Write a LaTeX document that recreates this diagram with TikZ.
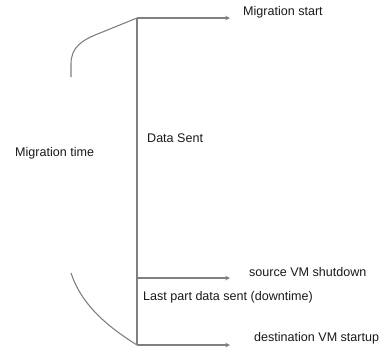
\documentclass[tikz,border=0pt]{standalone}
\usepackage{fontspec}
\setmainfont{Liberation Sans}
\usepackage{tikz}
\usetikzlibrary{arrows, calc}

\tikzset{
    tline/.style={draw=gray, line width=1.1pt},
    tarrow/.style={tline, -stealth},
    tlabel/.style={anchor=west, inner sep=0pt, text=black!90, font=\fontsize{12.6}{15}\selectfont}
}

\begin{document}
\begin{tikzpicture}[x=1bp, y=-1bp]
        \useasboundingbox (0,0) rectangle (380,349);

        \coordinate (T) at (137,18);
        \coordinate (M) at (137,278);
        \coordinate (B) at (137,345);
        \coordinate (TE) at (230,18);
        \coordinate (ME) at (230,278);
        \coordinate (BE) at (230,345);
        \coordinate (CT) at (71,77);
        \coordinate (CB) at (71,273);

        \draw[tline] (T) -- (B);
        \draw[tarrow] (T) -- (TE);
        \draw[tarrow] (M) -- (ME);
        \draw[tarrow] (B) -- (BE);

        \draw[tline] (CT) -- (71,64) .. controls (71,47) and (82,40) .. (100,33) -- (T);
        \draw[tline] (CB) .. controls (80,300) and (100,322) .. (B);

        \node[tlabel] (start) at (243,12) {Migration start};
        \node[tlabel] (sent) at (147,138) {Data Sent};
        \node[tlabel] (mtime) at (15,153) {Migration time};
        \node[tlabel] (shut) at (249,272) {source VM shutdown};
        \node[tlabel] (last) at (143,297) {Last part data sent (downtime)};
        \node[tlabel] (up) at (254,338) {destination VM startup};
    \end{tikzpicture}
\end{document}
